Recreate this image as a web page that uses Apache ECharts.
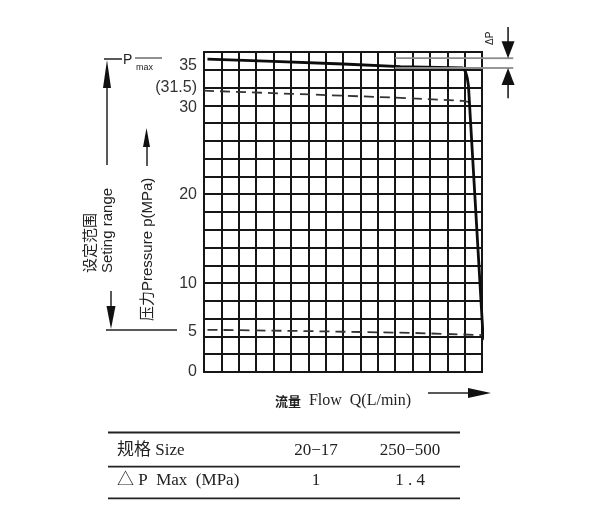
<!DOCTYPE html>
<html><head><meta charset="utf-8">
<script src="https://cdn.jsdelivr.net/npm/echarts@6/dist/echarts.min.js"></script>
<style>html,body{margin:0;padding:0;background:#fff}#c{width:600px;height:520px}</style>
</head><body><div id="c"></div>
<script>
// ---- data ----
const yLabelValues = [0, 5, 10, 20, 30, 31.5, 35];
const yLabelTexts = ['0', '5', '10', '20', '30', '(31.5)', '35'];
const maxCurve = [[0.2,35.2],[4,34.95],[8,34.65],[11.3,34.35],[14.9,34.2],[15.05,33.8],[15.15,33.1],[15.22,32.2],[16.05,4.4],[16.17,3.6]];
const upperDashed = [[0,31.65],[5,31.3],[11.3,30.85],[14.9,30.5],[15.28,30.35]];
const lowerDashed = [[0.2,4.75],[6,4.6],[12,4.4],[16.08,4.15]];
const deltaPLevels = [35.3, 34.2];
const deltaPSpan = [11, 17.8];
const deltaPArrowX = 17.5;
const deltaPArrowEnds = [38.8, 30.8];
const tableHeader = ['规格 Size', '20−17', '250−500'];
const tableRow = ['△ P  Max  (MPa)', '1', '1 . 4'];

const chart = echarts.init(document.getElementById('c'));
const ink = '#161616';
const serif = "'Liberation Serif','Noto Sans CJK SC'";
const sans = "'Liberation Sans','Noto Sans CJK SC'";

const series = [
  {type:'line', data:maxCurve, showSymbol:false, clip:false, z:5,
   lineStyle:{color:'#0d0d0d', width:2.8}},
  {type:'line', data:upperDashed, showSymbol:false, clip:false, z:4,
   lineStyle:{color:'#333', width:1.8, type:[10,6]}},
  {type:'line', data:lowerDashed, showSymbol:false, clip:false, z:4,
   lineStyle:{color:'#333', width:1.8, type:[10,6]}}
];
deltaPLevels.forEach(v => series.push({type:'line', data:[[deltaPSpan[0], v],[deltaPSpan[1], v]], showSymbol:false, clip:false, z:6,
  lineStyle:{color:'#8c8c8c', width:1.8}}));

// per-label nudges to follow the hand-lettered positions of the reference
const labelRich = {
  up:{fontFamily:sans, fontSize:16, color:'#333', padding:[0,0,8,0]},
  dn:{fontFamily:sans, fontSize:16, color:'#333', padding:[4,0,0,0]},
  dn2:{fontFamily:sans, fontSize:16, color:'#333', padding:[9,0,0,0]},
  n:{fontFamily:sans, fontSize:16, color:'#333'}
};
const labelStyleKey = {'(31.5)':'up', '30':'dn', '35':'dn2', '5':'dn2'};

chart.setOption({
  animation:false,
  grid:{left:204, right:118, top:52, bottom:148, show:true, borderColor:ink, borderWidth:2},
  xAxis:{type:'value', min:0, max:16, interval:1,
    axisLine:{show:false}, axisTick:{show:false}, axisLabel:{show:false},
    splitLine:{show:true, lineStyle:{color:ink, width:2}},
    name:'{b|流量}  Flow  Q(L/min)', nameLocation:'middle', nameGap:21,
    nameTextStyle:{fontFamily:serif, fontSize:16, color:'#222', padding:[0,0,0,0],
      rich:{b:{fontFamily:"'Noto Sans CJK SC'", fontWeight:'bold', fontSize:13, color:'#222'}}}},
  yAxis:[
    {type:'value', min:0, max:36, interval:2,
     axisLine:{show:false}, axisTick:{show:false}, axisLabel:{show:false},
     splitLine:{show:true, lineStyle:{color:ink, width:2}}},
    {type:'value', min:0, max:36, interval:0.5, position:'left',
     axisLine:{show:false}, axisTick:{show:false}, splitLine:{show:false},
     axisLabel:{show:true, margin:7, fontFamily:sans, fontSize:16, color:'#333', rich:labelRich,
       formatter:v => { const i = yLabelValues.indexOf(v); if (i < 0) return '';
         const t = yLabelTexts[i]; return '{' + (labelStyleKey[t] || 'n') + '|' + t + '}'; }}}
  ],
  series:series
});

// ---- annotations ----
const G = [];
function ln(x1,y1,x2,y2,w,c){G.push({type:'line', silent:true, shape:{x1,y1,x2,y2}, style:{stroke:c||'#222', lineWidth:w||1.5}});}
function tri(points,c){G.push({type:'polygon', silent:true, shape:{points}, style:{fill:c||'#111'}});}
function tx(x,y,text,font,size,opt){G.push(Object.assign({type:'text', silent:true, x, y,
  style:Object.assign({text, fontFamily:font, fontSize:size, fill:'#222', align:'left', verticalAlign:'middle'}, (opt&&opt.style)||{})}, (opt&&opt.el)||{}));}
const px = (x,y) => chart.convertToPixel({gridIndex:0}, [x,y]);

// ΔP reference lines, continued past the plot edge
deltaPLevels.forEach(v => {
  const a = px(16, v), b = px(deltaPSpan[1], v);
  ln(a[0], a[1], b[0], b[1], 1.8, '#8c8c8c');
});

// ΔP arrows
const tTop = px(deltaPArrowX, deltaPLevels[0]);
const sTop = px(deltaPArrowX, deltaPArrowEnds[0]);
ln(sTop[0], sTop[1], tTop[0], tTop[1]-10, 1.5, '#111');
tri([[tTop[0], tTop[1]], [tTop[0]-6.5, tTop[1]-17], [tTop[0]+6.5, tTop[1]-17]]);
const tBot = px(deltaPArrowX, deltaPLevels[1]);
const sBot = px(deltaPArrowX, deltaPArrowEnds[1]);
ln(sBot[0], sBot[1], tBot[0], tBot[1]+10, 1.5, '#111');
tri([[tBot[0], tBot[1]], [tBot[0]-6.5, tBot[1]+17], [tBot[0]+6.5, tBot[1]+17]]);
tx(490, 45, 'ΔP', sans, 10, {el:{rotation:Math.PI/2}});

// left: setting range arrow
ln(104, 59, 122, 59, 1.5);
tx(123, 60, 'P', sans, 14);
tx(136, 68, 'max', sans, 9);
ln(135, 58, 162, 58, 1);
ln(107, 80, 107, 165, 1.5);
tri([[107, 60], [103, 88], [111, 88]]);
tx(89, 273, '设定范围', "'Noto Sans CJK SC'", 15, {el:{rotation:Math.PI/2}});
tx(108, 273, 'Seting range', sans, 15, {el:{rotation:Math.PI/2}});
ln(111, 291, 111, 312, 1.5);
tri([[111, 329], [106.5, 306], [115.5, 306]]);
ln(106, 330, 177, 330, 1.5);

// pressure label
ln(147, 140, 147, 166, 1.5);
tri([[146.5, 128], [143, 147], [150, 147]]);
tx(148, 321, '压力Pressure p(MPa)', sans, 15, {el:{rotation:Math.PI/2}});

// x-axis arrow
ln(428, 393, 472, 393, 1.5);
tri([[491, 393], [468, 388], [468, 398]]);

// table
ln(108, 432.5, 460, 432.5, 1.8);
ln(108, 466.7, 460, 466.7, 1.8);
ln(108, 498.3, 460, 498.3, 1.8);
const colX = [117, 316, 410];
[tableHeader, tableRow].forEach((row, r) => {
  const y = r === 0 ? 451 : 481;
  row.forEach((t, i) => tx(colX[i], y, t, serif, 17, {style:{align: i === 0 ? 'left' : 'center'}}));
});

chart.setOption({graphic:G});
</script></body></html>
